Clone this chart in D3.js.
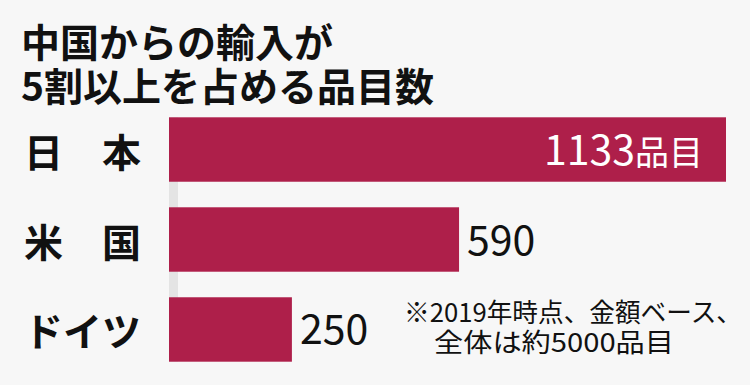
<!DOCTYPE html>
<html>
<head>
<meta charset="utf-8">
<script src="https://cdn.jsdelivr.net/npm/d3@7"></script>
<style>
  html, body { margin: 0; padding: 0; background: #f7f7f7; }
  svg { display: block; font-family: "Noto Sans CJK JP", sans-serif; }
</style>
</head>
<body>
<div id="chart"></div>
<script>
const titleLines = ["中国からの輸入が", "5割以上を占める品目数"];
const categories = ["日　本", "米　国", "ドイツ"];
const values = [1133, 590, 250];
const unit = "品目";
const noteLines = ["※2019年時点、金額ベース、", "全体は約5000品目"];

const width = 750;
const height = 385;
const barColor = "#ae1f4a";

const svg = d3.select("#chart")
  .append("svg")
  .attr("width", width)
  .attr("height", height);

svg.append("rect")
  .attr("width", width)
  .attr("height", height)
  .attr("fill", "#f7f7f7");

// title
svg.selectAll(".title")
  .data(titleLines)
  .enter()
  .append("text")
  .attr("class", "title")
  .attr("x", 21)
  .attr("y", (d, i) => 40 + i * 44)
  .attr("dominant-baseline", "central")
  .attr("font-size", 39)
  .attr("font-weight", 700)
  .attr("fill", "#111")
  .text(d => d);

const x = d3.scaleLinear().domain([0, d3.max(values)]).range([169, 726]);
const y = d3.scaleBand().domain(categories).range([117.3, 361.7]).paddingInner(0.284).paddingOuter(0);

// faint axis stub behind bars
svg.append("rect")
  .attr("x", x(0))
  .attr("y", y.range()[0])
  .attr("width", 9)
  .attr("height", y.range()[1] - y.range()[0])
  .attr("fill", "#e4e4e4");

svg.selectAll(".bar")
  .data(categories)
  .enter()
  .append("rect")
  .attr("class", "bar")
  .attr("x", x(0))
  .attr("y", d => y(d))
  .attr("width", (d, i) => x(values[i]) - x(0))
  .attr("height", y.bandwidth())
  .attr("fill", barColor);

// category labels
svg.selectAll(".cat")
  .data(categories)
  .enter()
  .append("text")
  .attr("class", "cat")
  .attr("x", 24)
  .attr("y", d => y(d) + y.bandwidth() / 2)
  .attr("dominant-baseline", "central")
  .attr("font-size", 39)
  .attr("font-weight", 700)
  .attr("fill", "#111")
  .text(d => d);

// value labels: the longest bar carries the unit inside, the rest sit after the bar
const maxV = d3.max(values);
categories.forEach((c, i) => {
  const inside = values[i] === maxV;
  const t = svg.append("text")
    .attr("x", inside ? x(values[i]) - 23 : x(values[i]) + 8)
    .attr("y", y(c) + y.bandwidth() / 2 + 15)
    .attr("text-anchor", inside ? "end" : "start")
    .attr("font-size", 41)
    .attr("fill", inside ? "#fff" : "#111");
  t.append("tspan").text(values[i]);
  if (inside) t.append("tspan").attr("font-size", 34).text(unit);
});

// note
svg.append("text")
  .attr("x", 404)
  .attr("y", 322)
  .attr("font-size", 26)
  .attr("fill", "#111")
  .attr("textLength", 338)
  .attr("lengthAdjust", "spacingAndGlyphs")
  .text(noteLines[0]);

svg.append("text")
  .attr("x", 434)
  .attr("y", 352)
  .attr("font-size", 26)
  .attr("fill", "#111")
  .attr("textLength", 240)
  .attr("lengthAdjust", "spacingAndGlyphs")
  .text(noteLines[1]);
</script>
</body>
</html>
